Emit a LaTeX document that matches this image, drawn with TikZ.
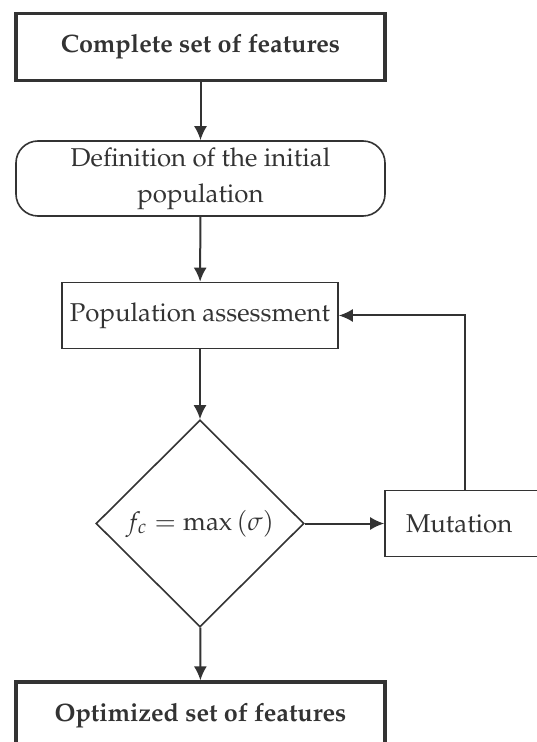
\documentclass[tikz,border=0pt]{standalone}
\usepackage[T1]{fontenc}
\usepackage{mathpazo}
\usepackage{tikz}
\usetikzlibrary{arrows.meta, shapes.geometric, positioning}
\tikzset{
    flowBox/.style={rectangle, draw=black!80, line width=0.8pt, text=black!80, inner sep=0pt, font=\fontsize{12.9}{18}\selectfont},
    flowBold/.style={flowBox, line width=1.6pt, font=\fontsize{12.6}{18}\selectfont\bfseries, minimum width=184.5pt, minimum height=33.5pt},
    flowRound/.style={flowBox, rounded corners=11pt, align=center, minimum width=184.5pt, minimum height=37.5pt},
    flowDecision/.style={diamond, draw=black!80, line width=0.8pt, text=black!80, inner sep=0pt, minimum width=104pt, minimum height=103.5pt, font=\fontsize{12.9}{18}\selectfont},
    flowEdge/.style={-{Latex[length=7pt, width=6.5pt]}, draw=black!80, line width=1pt},
}
\newcommand{\drawFlow}[2]{
    \draw[flowEdge] (#1) -- (#2);
}

\begin{document}
\begin{tikzpicture}[x=0.5pt, y=-0.5pt]
    \useasboundingbox (0, 0) rectangle (536, 742);

    \node[flowBold] (complete) at (200.5, 47) {Complete set of features};
    \node[flowRound] (initpop) at (200.5, 178.5) {Definition of the initial\\population};
    \node[flowBox, minimum width=138pt, minimum height=33pt] (assess) at (200, 315.5) {Population assessment};
    \node[flowDecision] (decide) at (200, 523.5) {$f_c = \max\,(\sigma)$};
    \node[flowBox, text width=59pt, inner xsep=10.5pt, align=left, minimum height=33pt] (mutation) at (465, 523.5) {Mutation};
    \node[flowBold] (optimized) at (200.5, 715.5) {Optimized set of features};

    \drawFlow{complete}{initpop}
    \drawFlow{initpop}{assess}
    \drawFlow{assess}{decide}
    \drawFlow{decide}{mutation}
    \drawFlow{decide}{optimized}
    % retour vers l'evaluation
    \draw[flowEdge] (mutation.north) |- (assess.east);

\end{tikzpicture}
\end{document}
